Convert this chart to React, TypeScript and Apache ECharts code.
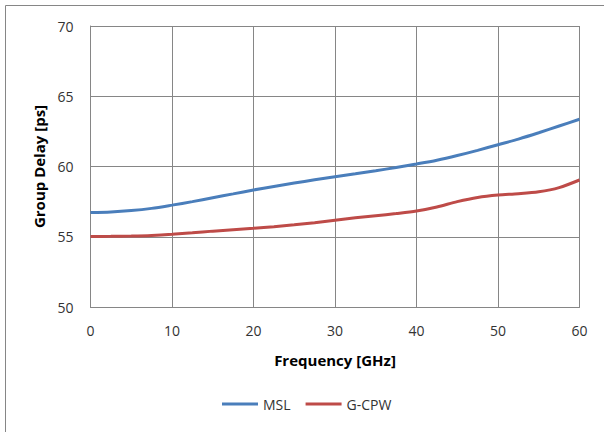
import React, { useEffect, useRef } from "react";
import * as echarts from "echarts";

const freq = [0, 2.5, 5, 7.5, 10, 12.5, 15, 17.5, 20, 22.5, 25, 27.5, 30, 32.5, 35, 37.5, 40, 42.5, 45, 47.5, 50, 52.5, 55, 57.5, 60];
const msl = [56.72, 56.76, 56.86, 57.02, 57.25, 57.5, 57.78, 58.05, 58.33, 58.58, 58.82, 59.05, 59.27, 59.48, 59.7, 59.93, 60.18, 60.45, 60.78, 61.15, 61.55, 61.95, 62.4, 62.88, 63.36];
const gcpw = [55.02, 55.03, 55.05, 55.09, 55.17, 55.28, 55.4, 55.5, 55.6, 55.72, 55.85, 56.0, 56.18, 56.35, 56.5, 56.65, 56.83, 57.12, 57.5, 57.8, 57.97, 58.06, 58.2, 58.5, 59.04];
const seriesNames = ["MSL", "G-CPW"];
const xTitle = "Frequency [GHz]";
const yTitle = "Group Delay [ps]";

const FONT = "Open Sans";

export default function App() {
  const ref = useRef<HTMLDivElement>(null);
  useEffect(() => {
    const chart = echarts.init(ref.current!, undefined, { renderer: "svg" });
    chart.setOption({
      animation: false,
      backgroundColor: "#ffffff",
      textStyle: { fontFamily: FONT },
      graphic: [
        {
          type: "rect",
          shape: { x: 5.5, y: 5.5, width: 620, height: 450 },
          style: { fill: "none", stroke: "#868686", lineWidth: 1 },
          silent: true,
        },
      ],
      grid: { left: 90.5, right: 24.5, top: 26, bottom: 125 },
      legend: {
        bottom: 16,
        left: 217,
        itemWidth: 36,
        itemHeight: 3,
        itemGap: 15,
        icon: "rect",
        textStyle: { fontFamily: FONT, fontSize: 14, color: "#333" },
        data: seriesNames,
      },
      xAxis: {
        type: "value",
        min: 0,
        max: 60,
        interval: 10,
        name: xTitle,
        nameLocation: "middle",
        nameGap: 45,
        nameTextStyle: { fontFamily: FONT, fontSize: 15, fontWeight: "bold", color: "#000" },
        axisLine: { lineStyle: { color: "#868686" } },
        axisTick: { show: false },
        axisLabel: { margin: 16, fontSize: 14, color: "#333", fontFamily: FONT },
        splitLine: { show: true, lineStyle: { color: "#868686", width: 1 } },
      },
      yAxis: {
        type: "value",
        min: 50,
        max: 70,
        interval: 5,
        name: yTitle,
        nameLocation: "middle",
        nameGap: 42,
        nameTextStyle: { fontFamily: FONT, fontSize: 15, fontWeight: "bold", color: "#000" },
        axisLine: { show: true, lineStyle: { color: "#868686" } },
        axisTick: { show: false },
        axisLabel: { margin: 17, fontSize: 14, color: "#333", fontFamily: FONT },
        splitLine: { show: true, lineStyle: { color: "#868686", width: 1 } },
      },
      series: [
        {
          name: seriesNames[0],
          type: "line",
          data: freq.map((f, i) => [f, msl[i]]),
          smooth: 0.3,
          showSymbol: false,
          lineStyle: { color: "#4a7ebb", width: 3 },
          itemStyle: { color: "#4a7ebb" },
        },
        {
          name: seriesNames[1],
          type: "line",
          data: freq.map((f, i) => [f, gcpw[i]]),
          smooth: 0.3,
          showSymbol: false,
          lineStyle: { color: "#be4b48", width: 3 },
          itemStyle: { color: "#be4b48" },
        },
      ],
    });
    return () => chart.dispose();
  }, []);
  return (
    <div
      ref={ref}
      style={{ position: "fixed", left: 0, top: 0, width: 604, height: 432 }}
    />
  );
}
